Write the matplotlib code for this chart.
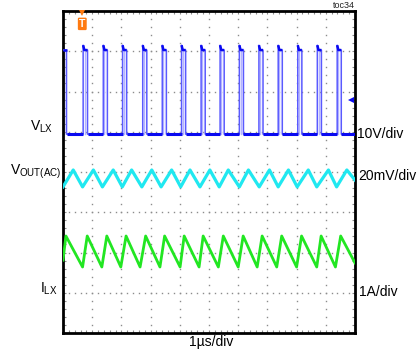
import numpy as np
import matplotlib
matplotlib.use("Agg")
import matplotlib.pyplot as plt

plt.rcParams["font.family"] = ["Liberation Sans", "DejaVu Sans"]
plt.rcParams["mathtext.default"] = "regular"

# graticule: 10 x 8 divisions, values below in divisions
NX, NY = 10, 8

# V_LX switch node: edges (div) and levels (div)
VLX_RISE = [0.69, 1.38, 2.04, 2.73, 3.40, 4.06, 4.73, 5.38, 6.04, 6.71, 7.37, 8.04, 8.71, 9.39]
VLX_FALL = [0.12, 0.84, 1.52, 2.18, 2.87, 3.54, 4.20, 4.87, 5.52, 6.18, 6.85, 7.51, 8.18, 8.85, 9.53]
VLX_PEAK, VLX_HIGH, VLX_LOW = 7.15, 7.03, 4.94

# V_OUT(AC) ripple: corner points
VOUT_T = [0.00, 0.35, 0.67, 1.04, 1.35, 1.72, 2.03, 2.35, 2.70, 3.04, 3.36, 3.72, 4.03, 4.35,
          4.69, 5.03, 5.35, 5.66, 6.04, 6.35, 6.72, 7.07, 7.37, 7.72, 8.02, 8.40, 8.69, 9.09,
          9.37, 9.72, 10.0]
VOUT_V = [3.63, 4.05, 3.63, 4.05, 3.63, 4.05, 3.63, 4.05, 3.63, 4.05, 3.63, 4.05, 3.63, 4.05,
          3.63, 4.05, 3.63, 4.05, 3.63, 4.05, 3.63, 4.05, 3.63, 4.05, 3.63, 4.05, 3.63, 4.05,
          3.63, 4.05, 3.80]

# I_LX inductor current: corner points
ILX_T = [0.00, 0.10, 0.67, 0.83, 1.33, 1.50, 1.98, 2.16, 2.64, 2.83, 3.32, 3.48, 4.01, 4.15,
         4.66, 4.80, 5.32, 5.49, 6.00, 6.17, 6.65, 6.82, 7.32, 7.49, 8.00, 8.17, 8.69, 8.84,
         9.33, 9.51, 10.0]
ILX_V = [1.81, 2.41, 1.64, 2.41, 1.64, 2.41, 1.64, 2.41, 1.64, 2.41, 1.64, 2.41, 1.64, 2.41,
         1.64, 2.41, 1.64, 2.41, 1.64, 2.41, 1.64, 2.41, 1.64, 2.41, 1.64, 2.41, 1.64, 2.41,
         1.64, 2.41, 1.74]

TRIG_X = 0.66
GND1_Y = 5.79

fig = plt.figure(figsize=(4.18, 3.54), dpi=100)
fig.patch.set_facecolor("white")
ax = fig.add_axes([63 / 418, 21 / 354, 292 / 418, 322 / 354])
ax.set_xlim(0, NX)
ax.set_ylim(0, NY)

# dotted graticule
for gx in range(1, NX):
    yy = np.arange(0, NY + 0.001, 0.2)
    ax.plot(np.full_like(yy, gx), yy, ls="none", marker="s", ms=1.0, mew=0, color="#8c8c8c", zorder=1)
for gy in range(1, NY):
    xx = np.arange(0, NX + 0.001, 0.2)
    ax.plot(xx, np.full_like(xx, gy), ls="none", marker="s", ms=1.0, mew=0, color="#8c8c8c", zorder=1)

# V_LX polyline built from the edge readings
rise = [None] + VLX_RISE
segs_top, segs_low = [], []
x, y = [], []
for r, f in zip(rise, VLX_FALL):
    if r is None:
        x += [0, f, f]; y += [VLX_HIGH, VLX_HIGH, VLX_LOW]
        segs_top.append(([0, f], [VLX_HIGH, VLX_HIGH]))
    else:
        x += [r, r, r + 0.04, f, f]; y += [VLX_LOW, VLX_PEAK, VLX_HIGH, VLX_HIGH, VLX_LOW]
        segs_top.append(([r, r + 0.04, f], [VLX_PEAK, VLX_HIGH, VLX_HIGH]))
x.append(NX); y.append(VLX_LOW)
for s, e in zip(VLX_FALL, VLX_RISE + [NX]):
    segs_low.append(([s, e], [VLX_LOW, VLX_LOW]))

# falling-edge persistence (lighter), then main trace
for f in VLX_FALL:
    ax.plot([f - 0.1, f - 0.1], [VLX_LOW, VLX_HIGH], color="#b4b4ff", lw=1.0, zorder=2)
ax.plot(x, y, color="#5a5aff", lw=1.1, zorder=3)
for sx, sy in segs_top:
    ax.plot(sx, sy, color="#0a0af0", lw=1.8, zorder=4, solid_capstyle="butt")
for sx, sy in segs_low:
    ax.plot(sx, sy, color="#0a0af0", lw=2.2, zorder=4, solid_capstyle="butt")

ax.plot(VOUT_T, VOUT_V, color="#20e8f0", lw=2.3, zorder=3)
ax.plot(ILX_T, ILX_V, color="#22e622", lw=2.0, zorder=3)

# markers: trigger and channel ground
ax.plot([TRIG_X], [7.94], marker="v", ms=4.5, color="#ff7a10", mew=0, clip_on=False, zorder=5)
ax.text(TRIG_X, 7.68, "T", ha="center", va="center", fontsize=7.5, color="white", fontweight="bold",
        bbox=dict(boxstyle="round,pad=0.12", fc="#ff7a10", ec="none"), zorder=5)
ax.plot([9.86], [GND1_Y], marker="<", ms=4, color="#0a0af0", mew=0, zorder=5)

ax.set_xticks([])
ax.set_yticks([])
ax.set_xticks(np.arange(0, NX + 0.001, 0.2), minor=True)
ax.set_yticks(np.arange(0, NY + 0.001, 0.2), minor=True)
ax.tick_params(which="minor", direction="in", length=2, width=0.8, color="#8c8c8c",
               top=True, right=True, labelbottom=False, labelleft=False)
for sp in ax.spines.values():
    sp.set_linewidth(2.0)
    sp.set_color("black")

# labels (figure pixel coords)
def ftext(px, py, s, **kw):
    fig.text(px / 418, 1 - py / 354, s, fontsize=10, color="black", **kw)

ftext(53, 131, r"$V_{LX}$", ha="right", va="baseline")
ftext(61, 175, r"$V_{OUT(AC)}$", ha="right", va="baseline")
ftext(58, 293, r"$I_{LX}$", ha="right", va="baseline")
ftext(357, 138, "10V/div", ha="left", va="baseline")
ftext(358, 180, "20mV/div", ha="left", va="baseline")
ftext(359, 296, "1A/div", ha="left", va="baseline")
ftext(211, 346, "1µs/div", ha="center", va="baseline")
fig.text(355 / 418, 1 - 0.5 / 354, "toc34", ha="right", va="top", fontsize=6.5, color="#222222")

fig.savefig("out.png", dpi=100, facecolor="white")
